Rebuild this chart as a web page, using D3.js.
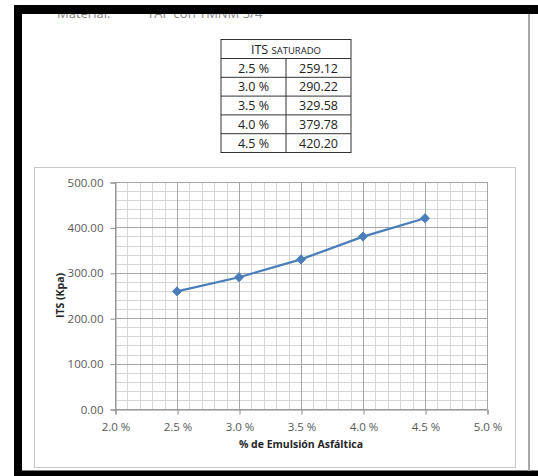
<!DOCTYPE html>
<html>
<head>
<meta charset="utf-8">
<script src="https://cdn.jsdelivr.net/npm/d3@7/dist/d3.min.js"></script>
<style>
  html, body { margin: 0; padding: 0; background: #fff; }
  svg { display: block; }
  text { font-family: "Open Sans", "Liberation Sans", sans-serif; }
</style>
</head>
<body>
<svg id="chart" width="538" height="476"></svg>
<script>
// Asphalt emulsion content (%) and saturated ITS (kPa)
const emulsion = [2.5, 3.0, 3.5, 4.0, 4.5];
const emulsionLabels = ["2.5 %", "3.0 %", "3.5 %", "4.0 %", "4.5 %"];
const itsSaturado = [259.12, 290.22, 329.58, 379.78, 420.20];
const itsLabels = ["259.12", "290.22", "329.58", "379.78", "420.20"];

const xTickValues = [2.0, 2.5, 3.0, 3.5, 4.0, 4.5, 5.0];
const yTickValues = [0, 100, 200, 300, 400, 500];

const svg = d3.select("#chart");

// Header line of the sheet (mostly covered by the frame)
svg.append("text").attr("x", 57).attr("y", 17.5)
  .attr("font-size", 13).attr("fill", "#888").text("Material:");
svg.append("text").attr("x", 147).attr("y", 17.5)
  .attr("font-size", 13).attr("fill", "#888").text("TAP con TMNM 3/4\"");

// ---- Summary table ----
const tbl = { x0: 221, x1: 351, xm: 286, y0: 39.5, head: 19, row: 18.8 };
const tg = svg.append("g");
const rowsY = d3.range(emulsion.length + 1).map(i => tbl.y0 + tbl.head + i * tbl.row);
tg.append("rect").attr("x", tbl.x0).attr("y", tbl.y0)
  .attr("width", tbl.x1 - tbl.x0).attr("height", rowsY[rowsY.length - 1] - tbl.y0)
  .attr("fill", "none").attr("stroke", "#333").attr("stroke-width", 1);
rowsY.slice(0, -1).forEach(y => {
  tg.append("line").attr("x1", tbl.x0).attr("x2", tbl.x1).attr("y1", y).attr("y2", y)
    .attr("stroke", "#333").attr("stroke-width", 1);
});
tg.append("line").attr("x1", tbl.xm).attr("x2", tbl.xm)
  .attr("y1", rowsY[0]).attr("y2", rowsY[rowsY.length - 1])
  .attr("stroke", "#333").attr("stroke-width", 1);
const head = tg.append("text").attr("x", (tbl.x0 + tbl.x1) / 2).attr("y", tbl.y0 + 14)
  .attr("text-anchor", "middle").attr("fill", "#222");
head.append("tspan").attr("font-size", 12.5).text("ITS ");
head.append("tspan").attr("font-size", 9.5).text("SATURADO");
emulsion.forEach((d, i) => {
  const yb = rowsY[i] + 14;
  tg.append("text").attr("x", (tbl.x0 + tbl.xm) / 2).attr("y", yb)
    .attr("text-anchor", "middle").attr("font-size", 12.5).attr("fill", "#222")
    .text(emulsionLabels[i]);
  tg.append("text").attr("x", (tbl.xm + tbl.x1) / 2).attr("y", yb)
    .attr("text-anchor", "middle").attr("font-size", 12.5).attr("fill", "#222")
    .text(itsLabels[i]);
});

// ---- Chart box ----
svg.append("rect").attr("x", 34.5).attr("y", 167.5).attr("width", 481).attr("height", 300)
  .attr("fill", "#fff").attr("stroke", "#c8c8c8").attr("stroke-width", 1);

const plot = { left: 115, right: 487, top: 182, bottom: 409 };
const x = d3.scaleLinear().domain([2.0, 5.0]).range([plot.left, plot.right]);
const y = d3.scaleLinear().domain([0, 500]).range([plot.bottom, plot.top]);

// Minor grid
const grid = svg.append("g");
const minorX = d3.range(20, 51).map(v => v / 10);
const minorY = d3.range(0, 501, 20);
grid.selectAll(".mx").data(minorX).join("line")
  .attr("x1", d => Math.round(x(d)) + 0.5).attr("x2", d => Math.round(x(d)) + 0.5)
  .attr("y1", plot.top).attr("y2", plot.bottom)
  .attr("stroke", "#d6d6d6").attr("stroke-width", 1);
grid.selectAll(".my").data(minorY).join("line")
  .attr("x1", plot.left).attr("x2", plot.right)
  .attr("y1", d => Math.round(y(d)) + 0.5).attr("y2", d => Math.round(y(d)) + 0.5)
  .attr("stroke", "#d6d6d6").attr("stroke-width", 1);
// Major grid
grid.selectAll(".Mx").data(xTickValues).join("line")
  .attr("x1", d => Math.round(x(d)) + 0.5).attr("x2", d => Math.round(x(d)) + 0.5)
  .attr("y1", plot.top).attr("y2", plot.bottom)
  .attr("stroke", "#a6a6a6").attr("stroke-width", 1);
grid.selectAll(".My").data(yTickValues).join("line")
  .attr("x1", plot.left).attr("x2", plot.right)
  .attr("y1", d => Math.round(y(d)) + 0.5).attr("y2", d => Math.round(y(d)) + 0.5)
  .attr("stroke", "#a6a6a6").attr("stroke-width", 1);

// Axes
const xAxis = d3.axisBottom(x).tickValues(xTickValues)
  .tickFormat(d => d3.format(".1f")(d) + " %").tickSize(5).tickPadding(8);
const yAxis = d3.axisLeft(y).tickValues(yTickValues)
  .tickFormat(d3.format(".2f")).tickSize(5).tickPadding(7);

const gx = svg.append("g").attr("transform", `translate(0.5,${Math.round(plot.bottom) + 0.5})`).call(xAxis);
const gy = svg.append("g").attr("transform", `translate(${plot.left + 0.5},0.5)`).call(yAxis);
[gx, gy].forEach(g => {
  g.select(".domain").attr("stroke", "#8c8c8c");
  g.selectAll(".tick line").attr("stroke", "#8c8c8c");
  g.selectAll(".tick text").attr("fill", "#595959").attr("font-size", 11.5)
    .attr("font-family", "\"Open Sans\", sans-serif");
});

// Axis titles
svg.append("text").attr("x", (plot.left + plot.right) / 2).attr("y", 448)
  .attr("text-anchor", "middle").attr("font-size", 10.5).attr("font-weight", "bold")
  .attr("fill", "#262626").text("% de Emulsión Asfáltica");
svg.append("text")
  .attr("transform", `translate(64,${(plot.top + plot.bottom) / 2}) rotate(-90)`)
  .attr("text-anchor", "middle").attr("font-size", 10.5).attr("font-weight", "bold")
  .attr("fill", "#262626").text("ITS (Kpa)");

// Series
const pts = emulsion.map((e, i) => [e, itsSaturado[i]]);
svg.append("path").datum(pts)
  .attr("d", d3.line().x(d => x(d[0])).y(d => y(d[1])))
  .attr("fill", "none").attr("stroke", "#4a7ebb").attr("stroke-width", 2.25);
svg.selectAll(".mk").data(pts).join("path")
  .attr("transform", d => `translate(${x(d[0])},${y(d[1])})`)
  .attr("d", d3.symbol().type(d3.symbolDiamond2).size(52))
  .attr("fill", "#4a7ebb").attr("stroke", "#4a7ebb").attr("stroke-width", 1);

// Page frame
svg.append("rect").attr("x", 14).attr("y", 5).attr("width", 524).attr("height", 9).attr("fill", "#000");
svg.append("rect").attr("x", 14).attr("y", 5).attr("width", 8).attr("height", 471).attr("fill", "#000");
svg.append("rect").attr("x", 14).attr("y", 470.5).attr("width", 524).attr("height", 6).attr("fill", "#000");
svg.append("rect").attr("x", 528).attr("y", 14).attr("width", 2).attr("height", 457).attr("fill", "#a8a8a8");
</script>
</body>
</html>
